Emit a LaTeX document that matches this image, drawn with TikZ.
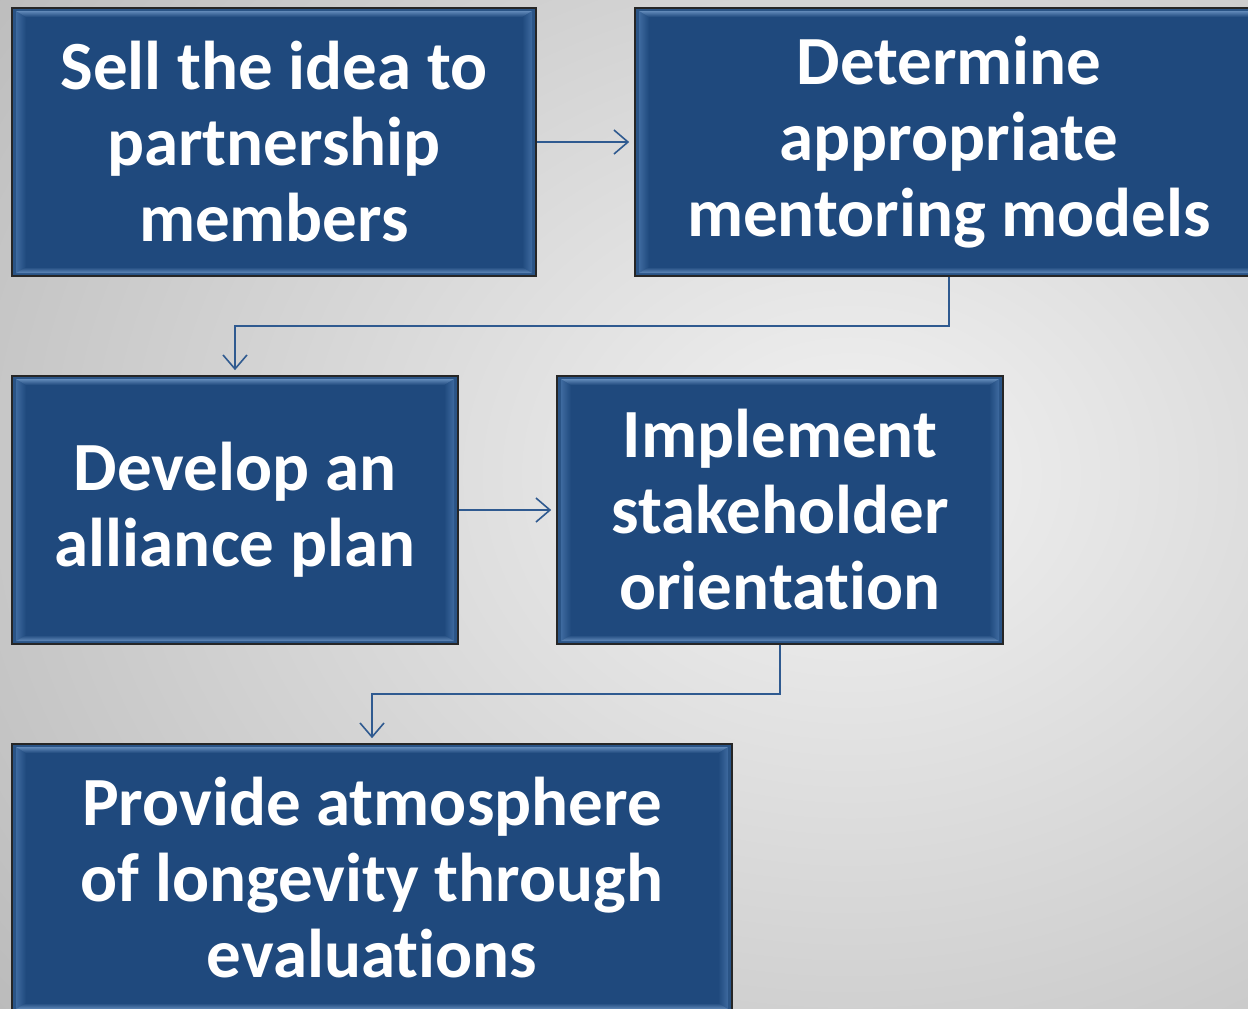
\documentclass[tikz,border=0pt]{standalone}
\usepackage{fontspec}
\setmainfont[Ligatures=NoCommon]{Carlito}
\usetikzlibrary{arrows.meta,calc}
\definecolor{boxblue}{HTML}{1F497D}
\definecolor{edgeblue}{HTML}{2A5486}
\definecolor{hilite}{HTML}{B4D2F4}
\definecolor{midblue}{HTML}{3E6A9F}
\definecolor{conncol}{HTML}{2F5A90}
\tikzset{
  bev/.style={draw=black!85, line width=1.6pt, fill=boxblue,
    minimum width=#1, minimum height=268pt, inner sep=0pt, align=center,
    text=white, font=\fontsize{69}{76}\selectfont\bfseries,
    path picture={
      \path (path picture bounding box.north west) coordinate (NW)
            (path picture bounding box.south east) coordinate (SE)
            (path picture bounding box.north east) coordinate (NE)
            (path picture bounding box.south west) coordinate (SW);
      \fill[edgeblue] (NW) rectangle (SE);
      \shade[left color=midblue, middle color=hilite, right color=boxblue]
        ($(NW)+(4pt,-3pt)$) -- ($(SW)+(4pt,3pt)$) -- ($(SW)+(14pt,9pt)$) -- ($(NW)+(14pt,-9pt)$) -- cycle;
      \shade[left color=boxblue, middle color=hilite, right color=midblue]
        ($(NE)+(-4pt,-3pt)$) -- ($(SE)+(-4pt,3pt)$) -- ($(SE)+(-14pt,9pt)$) -- ($(NE)+(-14pt,-9pt)$) -- cycle;
      \shade[top color=midblue!70!hilite, bottom color=boxblue]
        ($(NW)+(4pt,-3pt)$) -- ($(NE)+(-4pt,-3pt)$) -- ($(NE)+(-14pt,-9pt)$) -- ($(NW)+(14pt,-9pt)$) -- cycle;
      \shade[top color=boxblue, bottom color=midblue!70!hilite]
        ($(SW)+(4pt,3pt)$) -- ($(SE)+(-4pt,3pt)$) -- ($(SE)+(-14pt,9pt)$) -- ($(SW)+(14pt,9pt)$) -- cycle;
      \fill[boxblue] ($(NW)+(14pt,-9pt)$) rectangle ($(SE)+(-14pt,9pt)$);
    }},
  conn/.style={draw=conncol, line width=1.6pt, shorten >=5pt,
    -{Straight Barb[length=14pt,width=24pt,line width=1.6pt]}},
}
\begin{document}
\begin{tikzpicture}[x=1pt,y=-1pt]
  \useasboundingbox (0,0) rectangle (1248,1009);
  \clip (0,0) rectangle (1248,1009);
  \shade[inner color=white!95!black, outer color=white!72!black]
    (-300,-450) rectangle (2000,1400);
  \node[bev=524pt] (b1) at (274,142) {Sell the idea to\\partnership\\members};
  \node[bev=628pt] (b2) at (949,142) {Determine\\appropriate\\mentoring models};
  \node[bev=446pt] (b3) at (235,510) {Develop an\\alliance plan};
  \node[bev=446pt] (b4) at (780,510) {Implement\\stakeholder\\orientation};
  \node[bev=720pt] (b5) at (372,878) {Provide atmosphere\\of longevity through\\evaluations};
  \draw[conn] (b1.east) -- (b2.west);
  \draw[conn] (b2.south) -- ++(0,49) -| (b3.north);
  \draw[conn] (b3.east) -- (b4.west);
  \draw[conn] (b4.south) -- ++(0,49) -| (b5.north);
\end{tikzpicture}
\end{document}
